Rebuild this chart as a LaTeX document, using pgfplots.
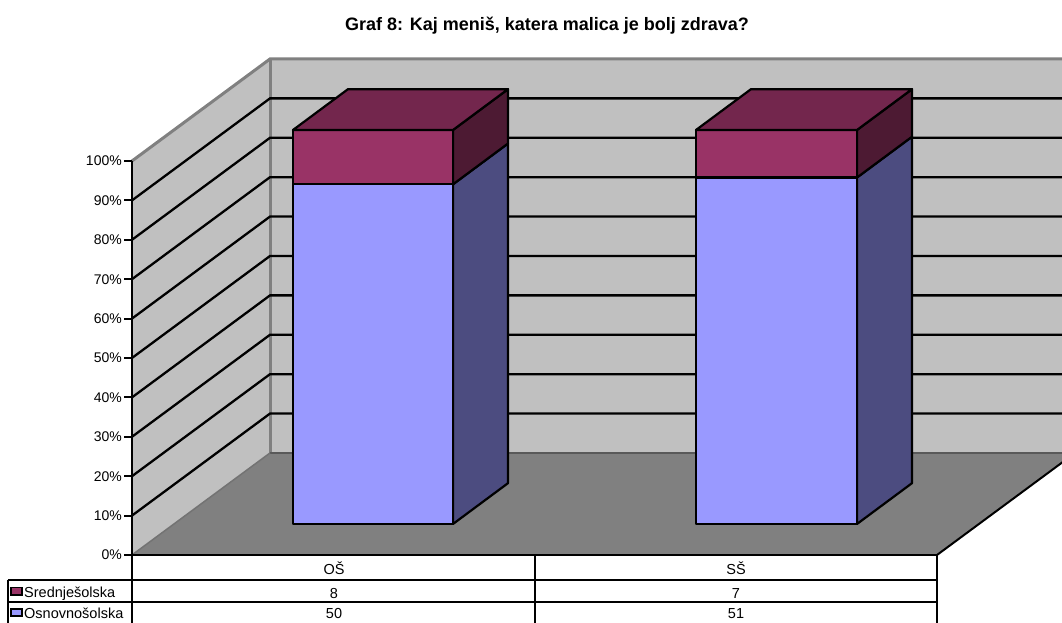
\documentclass[border=0pt]{standalone}
\usepackage{pgfplots}
\pgfplotsset{compat=1.18}
\usepackage{fontspec}
\setmainfont{Liberation Sans}
\definecolor{wall}{HTML}{C0C0C0}
\definecolor{floorc}{HTML}{808080}
\definecolor{blueF}{HTML}{9999FF}
\definecolor{blueS}{HTML}{4C4C80}
\definecolor{purF}{HTML}{993366}
\definecolor{purT}{HTML}{73264D}
\definecolor{purS}{HTML}{4D1A33}
\begin{document}
\begin{tikzpicture}
\begin{axis}[
  scale only axis, width=805pt, height=394pt,
  xmin=132, xmax=937, ymin=0, ymax=100,
  clip=false, axis on top,
  axis x line=none, axis y line*=left,
  axis line style={black, line width=2pt},
  ytick={0,10,...,100}, tick align=outside, major tick length=8pt,
  tick style={black, line width=2pt},
  yticklabel={\pgfmathprintnumber{\tick}\%},
  /pgf/number format/assume math mode=true,
  yticklabel style={font=\fontsize{14}{16}\selectfont, inner sep=2pt},
]
% walls and floor
\addplot[draw=none, fill=wall] coordinates {(270,25.89) (1075,25.89) (1075,125.89) (270,125.89)} -- cycle;
\addplot[draw=none, fill=wall] coordinates {(132,0) (270,25.89) (270,125.89) (132,100)} -- cycle;
\addplot[draw=none, fill=floorc] coordinates {(132,0) (937,0) (1075,25.89) (270,25.89)} -- cycle;
% wall edges
\addplot[color=floorc, line width=3pt] coordinates {(132,100) (270,125.89) (1075,125.89)};
\addplot[color=floorc, line width=3pt] coordinates {(270,25.89) (270,125.89)};
\addplot[color=black!65, line width=1.5pt] coordinates {(270,25.89) (1075,25.89)};
\addplot[color=black!55, line width=1.5pt] coordinates {(132,0) (270,25.89)};
\addplot[color=black, line width=2pt] coordinates {(937,0) (1075,25.89)};
% gridlines
\addplot[black, line width=2.3pt] coordinates {(132,10) (270,35.89) (1075,35.89)};
\addplot[black, line width=2.3pt] coordinates {(132,20) (270,45.89) (1075,45.89)};
\addplot[black, line width=2.3pt] coordinates {(132,30) (270,55.89) (1075,55.89)};
\addplot[black, line width=2.3pt] coordinates {(132,40) (270,65.89) (1075,65.89)};
\addplot[black, line width=2.3pt] coordinates {(132,50) (270,75.89) (1075,75.89)};
\addplot[black, line width=2.3pt] coordinates {(132,60) (270,85.89) (1075,85.89)};
\addplot[black, line width=2.3pt] coordinates {(132,70) (270,95.89) (1075,95.89)};
\addplot[black, line width=2.3pt] coordinates {(132,80) (270,105.89) (1075,105.89)};
\addplot[black, line width=2.3pt] coordinates {(132,90) (270,115.89) (1075,115.89)};
% bar OS: 50 (86.207%), 8 (13.793%)
\addplot[draw=black, line width=2.2pt, line join=round, fill=blueS] coordinates {(453,7.868) (508,18.228) (508,104.435) (453,94.075)} -- cycle;
\addplot[draw=black, line width=2.2pt, line join=round, fill=purS] coordinates {(453,94.075) (508,104.435) (508,118.228) (453,107.868)} -- cycle;
\addplot[draw=black, line width=2.2pt, line join=round, fill=blueF] coordinates {(293,7.868) (453,7.868) (453,94.075) (293,94.075)} -- cycle;
\addplot[draw=black, line width=2.2pt, line join=round, fill=purF] coordinates {(293,94.075) (453,94.075) (453,107.868) (293,107.868)} -- cycle;
\addplot[draw=black, line width=2.2pt, line join=round, fill=purT] coordinates {(293,107.868) (453,107.868) (508,118.228) (348,118.228)} -- cycle;
% bar SS: 51 (87.931%), 7 (12.069%)
\addplot[draw=black, line width=2.2pt, line join=round, fill=blueS] coordinates {(857,7.868) (912,18.228) (912,106.159) (857,95.799)} -- cycle;
\addplot[draw=black, line width=2.2pt, line join=round, fill=purS] coordinates {(857,95.799) (912,106.159) (912,118.228) (857,107.868)} -- cycle;
\addplot[draw=black, line width=2.2pt, line join=round, fill=blueF] coordinates {(696,7.868) (857,7.868) (857,95.799) (696,95.799)} -- cycle;
\addplot[draw=black, line width=2.2pt, line join=round, fill=purF] coordinates {(696,95.799) (857,95.799) (857,107.868) (696,107.868)} -- cycle;
\addplot[draw=black, line width=2.2pt, line join=round, fill=purT] coordinates {(696,107.868) (857,107.868) (912,118.228) (751,118.228)} -- cycle;
% data table
\addplot[black, line width=2.5pt] coordinates {(132,0) (937,0)};
\addplot[black, line width=2pt] coordinates {(8,-6.35) (937,-6.35)};
\addplot[black, line width=2pt] coordinates {(8,-11.93) (937,-11.93)};
\addplot[black, line width=2pt] coordinates {(132,0) (132,-18)};
\addplot[black, line width=2pt] coordinates {(535,0) (535,-18)};
\addplot[black, line width=2.5pt] coordinates {(937,0) (937,-18)};
\addplot[black, line width=2pt] coordinates {(8,-6.35) (8,-18)};
\addplot[draw=black, line width=1.5pt, fill=purF] coordinates {(11,-8.3) (22,-8.3) (22,-10.2) (11,-10.2)} -- cycle;
\addplot[draw=black, line width=1.5pt, fill=blueF] coordinates {(11,-13.7) (22,-13.7) (22,-15.5) (11,-15.5)} -- cycle;
\node[font=\fontsize{14.5}{16}\selectfont] at (axis cs:334,-3.3) {OŠ};
\node[font=\fontsize{14.5}{16}\selectfont] at (axis cs:736,-3.3) {SŠ};
\node[font=\fontsize{14.5}{16}\selectfont] at (axis cs:334,-9.9) {8};
\node[font=\fontsize{14.5}{16}\selectfont] at (axis cs:736,-9.9) {7};
\node[font=\fontsize{14.5}{16}\selectfont, inner sep=0pt] at (axis cs:334,-14.9) {50};
\node[font=\fontsize{14.5}{16}\selectfont, inner sep=0pt] at (axis cs:736,-14.9) {51};
\node[font=\fontsize{14.5}{16}\selectfont, anchor=west, inner sep=0pt] at (axis cs:24,-9.9) {Srednješolska};
\node[font=\fontsize{14.5}{16}\selectfont, anchor=west, inner sep=0pt] at (axis cs:24,-14.9) {Osnovnošolska};
% title
\node[font=\fontsize{18}{20}\selectfont\bfseries] at (axis cs:547,134.26) {Graf 8: Kaj meniš, katera malica je bolj zdrava?};
\coordinate (bbBL) at (axis cs:0,-17.26);
\coordinate (bbTR) at (axis cs:1062,140.86);
\end{axis}
\pgfresetboundingbox
\useasboundingbox (bbBL) rectangle (bbTR);
\end{tikzpicture}
\end{document}
